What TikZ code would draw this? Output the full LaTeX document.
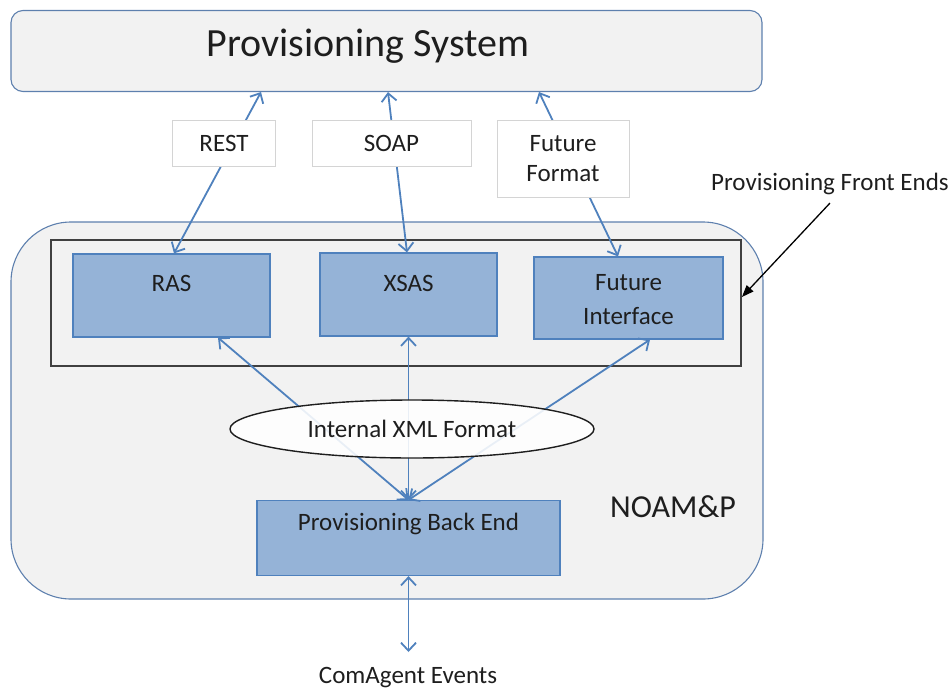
\documentclass[tikz,border=0pt]{standalone}
\usepackage{fontspec}
\setmainfont{Carlito}
\usetikzlibrary{arrows.meta,shapes.geometric}
\definecolor{panel}{HTML}{F2F2F2}
\definecolor{panelrim}{HTML}{5E80AE}
\definecolor{boxfill}{HTML}{95B3D7}
\definecolor{boxrim}{HTML}{4F81BD}
\definecolor{link}{HTML}{4F81BD}
\definecolor{ink}{HTML}{1E1E1E}
\definecolor{tagrim}{HTML}{D4D4D4}
\tikzset{
  txt/.style={font=\fontsize{25}{30}\selectfont, text=ink},
  sysbox/.style={draw=panelrim, line width=1.1pt, fill=panel, rounded corners=12pt, inner sep=0pt},
  outerbox/.style={draw=panelrim, line width=1.1pt, fill=panel, rounded corners=60pt, inner sep=0pt},
  frontframe/.style={draw=ink!85, line width=1.8pt, fill=panel, inner sep=0pt},
  bluebox/.style={draw=boxrim, line width=1.2pt, fill=boxfill, inner sep=0pt, txt, align=center},
  tagbox/.style={draw=tagrim, line width=0.8pt, fill=white, inner sep=0pt, txt, align=center},
  link/.style={draw=link, line width=1.8pt, {Straight Barb[length=8pt,width=15pt]}-{Straight Barb[length=8pt,width=15pt]}},
  pointer/.style={draw=black, line width=1.3pt, -{Triangle[length=12pt,width=9pt]}},
}
\begin{document}
\begin{tikzpicture}[x=1pt, y=-1pt]
\useasboundingbox (0,0) rectangle (951,691);

% top-level system
\node[sysbox, minimum width=751pt, minimum height=81pt] (ps) at (386.5,51) {};
\node[font=\fontsize{40}{48}\selectfont, text=ink] (pstext) at (368,46) {Provisioning System};

% NOAM&P container and the front-end frame
\node[outerbox, minimum width=752pt, minimum height=377pt] (noam) at (387,410.5) {};
\node[frontframe, minimum width=690pt, minimum height=126pt] (frame) at (396,303) {};

% front ends
\node[bluebox, minimum width=197pt, minimum height=83pt, label={[txt, yshift=12.5pt]center:RAS}] (ras) at (171.5,295.5) {};
\node[bluebox, minimum width=177pt, minimum height=83pt, label={[txt, yshift=11.5pt]center:XSAS}] (xsas) at (408.5,294.5) {};
\node[bluebox, minimum width=189pt, minimum height=82pt, label={[txt, yshift=-1.5pt, align=center]center:Future\\[4pt]Interface}] (fi) at (628.5,298) {};

% back end
\node[bluebox, minimum width=303pt, minimum height=75pt, label={[txt, yshift=14pt]center:Provisioning Back End}] (be) at (408.5,538) {};

% links between the system and the front ends
\draw[link] ([xshift=2.5pt]ras.north) -- ([xshift=-125.5pt]ps.south);
\draw[link] ([xshift=-1.5pt]xsas.north) -- ([xshift=1.5pt]ps.south);
\draw[link] ([xshift=-10.5pt]fi.north) -- ([xshift=152.5pt]ps.south);

% protocol tags
\node[tagbox, minimum width=103pt, minimum height=46pt] (rest) at (224,143) {REST};
\node[tagbox, minimum width=159pt, minimum height=46pt] (soap) at (391.5,143) {SOAP};
\node[tagbox, minimum width=132pt, minimum height=77pt] (ff) at (563,158.5) {Future\\Format};

% internal links to the back end
\draw[link] (be.north) -- ([xshift=46.5pt]ras.south);
\draw[link] (be.north) -- (xsas.south);
\draw[link] (be.north) -- ([xshift=21.5pt]fi.south);

\node[ellipse, draw=ink, line width=1.4pt, fill=white, fill opacity=0.88, text opacity=1,
      minimum width=364pt, minimum height=58pt, inner sep=0pt, txt] (xml) at (412,429) {Internal XML Format};

\node[font=\fontsize{32}{38}\selectfont, text=ink] (noamtext) at (673,507) {NOAM\&P};

% events below the back end
\coordinate (evt) at (408.5,652);
\draw[link] (be.south) -- (evt);
\node[txt] (cae) at (408,678) {ComAgent Events};

% front-end callout
\node[txt, inner sep=0pt] (pfe) at (830,184) {Provisioning Front Ends};
\draw[pointer] ([yshift=-8pt]pfe.south) -- ([yshift=6pt]frame.east);

\end{tikzpicture}
\end{document}
